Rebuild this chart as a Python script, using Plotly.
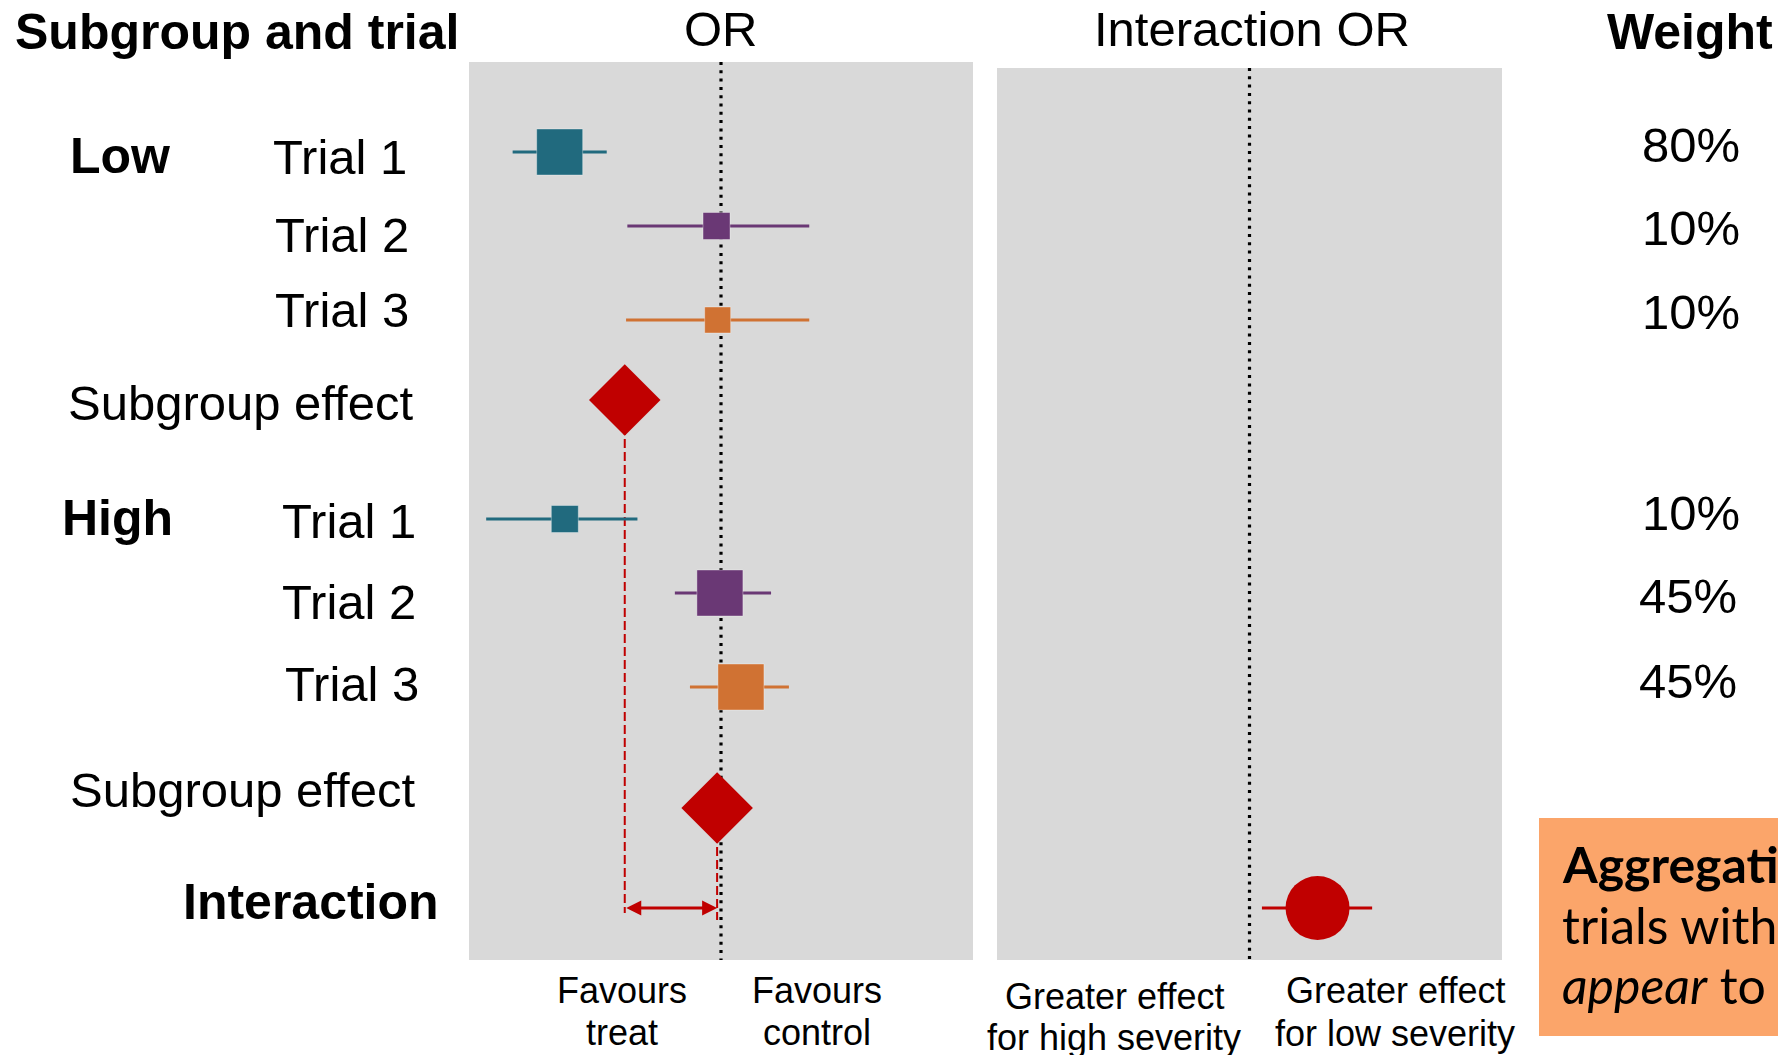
import math
import plotly.graph_objects as go

W, H = 1778, 1055

# ---- data -----------------------------------------------------------------
subgroups = ["Low", "High"]
trial_names = ["Trial 1", "Trial 2", "Trial 3"]

low_or = [0.229, 0.96, 0.97]
low_ci_lower = [0.149, 0.425, 0.42]
low_ci_upper = [0.352, 2.24, 2.24]
low_weights = ["80%", "10%", "10%"]

high_or = [0.24, 0.99, 1.20]
high_ci_lower = [0.117, 0.656, 0.753]
high_ci_upper = [0.466, 1.58, 1.86]
high_weights = ["10%", "45%", "45%"]

subgroup_or = [0.415, 0.965]          # Low, High pooled effects
interaction_or = 1.86
interaction_ci = [1.12, 3.06]

# ---- layout / styling -----------------------------------------------------
trial_colors = ["#216A7E", "#6A3875", "#D07233"]
effect_red = "#C00000"
panel_grey = "#D9D9D9"

# vertical slot of each row (slide units, top of the OR panel = 0)
low_rows = [90, 164, 258]
low_effect_row = 338
high_rows = [457, 531, 625]
high_effect_row = 746
interaction_row = 846
low_sizes = [46, 27, 26]
high_sizes = [27, 46, 46]

FONT = "Liberation Sans, Arial, sans-serif"
LABEL_SIZE = 49


def px(x):
    return x / W


def py(y):
    return 1 - y / H


fig = go.Figure()

# reference lines at OR = 1
fig.add_trace(go.Scatter(x=[1, 1], y=[0, 898], mode="lines", xaxis="x", yaxis="y",
                         line=dict(color="black", width=3.2, dash="3px,5.3px"),
                         hoverinfo="skip", showlegend=False))
fig.add_trace(go.Scatter(x=[1, 1], y=[6, 898], mode="lines", xaxis="x2", yaxis="y2",
                         line=dict(color="black", width=3.2, dash="3px,5.3px"),
                         hoverinfo="skip", showlegend=False))

# dashed drop lines from each subgroup effect to the interaction row
fig.add_trace(go.Scatter(x=[subgroup_or[0], subgroup_or[0]],
                         y=[low_effect_row, interaction_row + 5],
                         mode="lines", xaxis="x", yaxis="y",
                         line=dict(color=effect_red, width=2, dash="9px,4px"),
                         hoverinfo="skip", showlegend=False))
fig.add_trace(go.Scatter(x=[subgroup_or[1], subgroup_or[1]],
                         y=[high_effect_row, interaction_row + 12],
                         mode="lines", xaxis="x", yaxis="y",
                         line=dict(color=effect_red, width=2, dash="9px,4px"),
                         hoverinfo="skip", showlegend=False))

# trial estimates with confidence intervals
for i, name in enumerate(trial_names):
    xs = [low_or[i], high_or[i]]
    up = [low_ci_upper[i] - low_or[i], high_ci_upper[i] - high_or[i]]
    dn = [low_or[i] - low_ci_lower[i], high_or[i] - high_ci_lower[i]]
    fig.add_trace(go.Scatter(
        x=xs, y=[low_rows[i], high_rows[i]], mode="markers", xaxis="x", yaxis="y",
        name=name, showlegend=False,
        error_x=dict(type="data", symmetric=False, array=up, arrayminus=dn,
                     color=trial_colors[i], thickness=3, width=0),
        marker=dict(symbol="square", size=[low_sizes[i], high_sizes[i]],
                    color=trial_colors[i], opacity=1,
                    line=dict(color="rgba(255,255,255,0.35)", width=1)),
    ))

# subgroup pooled effects
fig.add_trace(go.Scatter(x=subgroup_or, y=[low_effect_row, high_effect_row],
                         mode="markers", xaxis="x", yaxis="y", showlegend=False,
                         marker=dict(symbol="diamond", size=55, color=effect_red,
                                     opacity=1)))

# interaction estimate
fig.add_trace(go.Scatter(
    x=[interaction_or], y=[interaction_row], mode="markers", xaxis="x2", yaxis="y2",
    showlegend=False,
    error_x=dict(type="data", symmetric=False,
                 array=[interaction_ci[1] - interaction_or],
                 arrayminus=[interaction_or - interaction_ci[0]],
                 color=effect_red, thickness=3, width=0),
    marker=dict(symbol="circle", size=64, color=effect_red, opacity=1)))

annotations = []

# double-headed arrow between the two subgroup effects
annotations.append(dict(
    x=math.log10(subgroup_or[1]), y=interaction_row, xref="x", yref="y",
    ax=math.log10(subgroup_or[0]), ay=interaction_row, axref="x", ayref="y",
    text="", showarrow=True, arrowhead=2, arrowside="end+start",
    arrowsize=1, arrowwidth=3, arrowcolor=effect_red, standoff=0, startstandoff=0))


def label(text, x, y, size=LABEL_SIZE, bold=False, anchor="left", family=FONT,
          vanchor="middle"):
    t = f"<b>{text}</b>" if bold else text
    annotations.append(dict(text=t, x=px(x), y=py(y), xref="paper", yref="paper",
                            xanchor=anchor, yanchor=vanchor, showarrow=False,
                            font=dict(family=family, size=size, color="black")))


# column headers (hung from the top edge)
label("Subgroup and trial", 13, 2, size=50, bold=True, vanchor="top")
label("OR", 721, 0, vanchor="top", anchor="center")
label("Interaction OR", 1252, 0, vanchor="top", anchor="center")
label("Weight", 1690, 2, size=50, bold=True, anchor="center", vanchor="top")

# row labels
label(subgroups[0], 68, 156, size=50, bold=True)
label(subgroups[1], 60, 518, size=50, bold=True)
for name, x, y in zip(trial_names, [271, 273, 273], [157, 235, 310]):
    label(name, x, y)
for name, x, y in zip(trial_names, [280, 280, 283], [521, 602, 684]):
    label(name, x, y)
label("Subgroup effect", 66, 403)
label("Subgroup effect", 68, 790)
label("Interaction", 441, 902, size=50, bold=True, anchor="right")

# weights
for w, x, y in zip(low_weights + high_weights,
                   [1742, 1742, 1742, 1742, 1739, 1739],
                   [145, 228, 312, 513, 596, 681]):
    label(w, x, y, anchor="right")

# axis direction captions
for txt, x, y in [("Favours", 622, 990), ("treat", 622, 1032),
                  ("Favours", 817, 990), ("control", 817, 1032),
                  ("Greater effect", 1114, 996), ("for high severity", 1114, 1037),
                  ("Greater effect", 1395, 990), ("for low severity", 1395, 1033)]:
    label(txt, x, y, size=36, anchor="center")

# call-out box
BOXFONT = "Lato, Open Sans, sans-serif"
label("Aggregation", 1560, 864, size=50, bold=True, family=BOXFONT)
label("trials with", 1560, 925, size=50, family=BOXFONT)
label("<i>appear</i> to", 1560, 985, size=50, family=BOXFONT)

shapes = [dict(type="rect", xref="paper", yref="paper", x0=px(1539), x1=px(1800),
               y0=py(1036), y1=py(818), fillcolor="#FBA56A", line=dict(width=0),
               layer="below")]

hidden = dict(visible=False, showgrid=False, zeroline=False)
fig.update_layout(
    width=W, height=H, margin=dict(l=0, r=0, t=0, b=0),
    paper_bgcolor="white", plot_bgcolor=panel_grey,
    xaxis=dict(domain=[px(469), px(973)], type="log", range=[-1, 1], anchor="y", **hidden),
    yaxis=dict(domain=[py(960), py(62)], range=[898, 0], anchor="x", **hidden),
    xaxis2=dict(domain=[px(997), px(1502)], type="log", range=[-1, 1], anchor="y2", **hidden),
    yaxis2=dict(domain=[py(960), py(68)], range=[898, 6], anchor="x2", **hidden),
    annotations=annotations, shapes=shapes, showlegend=False,
)

fig.write_html("out.html", config={"displayModeBar": False})
